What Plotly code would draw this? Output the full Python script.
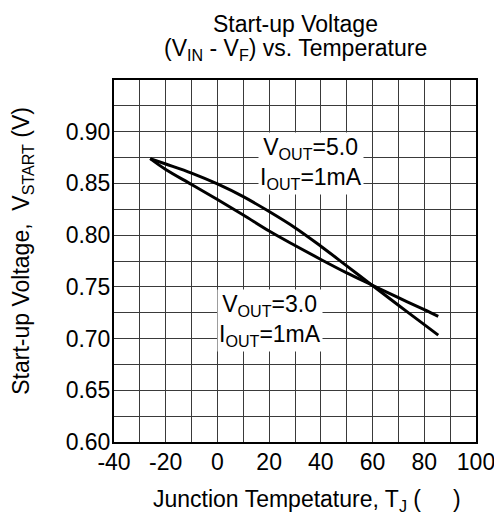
import plotly.graph_objects as go

# Data
temp_a = [-26, -20, -10, 0, 10, 20, 30, 40, 50, 60, 70, 80, 85.4]
vstart_a = [0.874, 0.8688, 0.8600, 0.8495, 0.8372, 0.8228, 0.8072, 0.7893, 0.7703, 0.7512, 0.7322, 0.7135, 0.7033]
temp_b = [-26, -20, -10, 0, 10, 20, 30, 40, 50, 60, 70, 80, 85.4]
vstart_b = [0.874, 0.8635, 0.8490, 0.8345, 0.8195, 0.8040, 0.7900, 0.7765, 0.7635, 0.7515, 0.7395, 0.7280, 0.7215]

x_ticks = [-40, -20, 0, 20, 40, 60, 80, 100]
y_ticks = [0.60, 0.65, 0.70, 0.75, 0.80, 0.85, 0.90]
y_ticktext = ["0.60", "0.65", "0.70", "0.75", "0.80", "0.85", "0.90"]

title_line1 = "Start-up Voltage"
title_line2 = "(V<sub>IN</sub> - V<sub>F</sub>) vs. Temperature"
x_title = "Junction Tempetature, T<sub>J</sub> (\u00a0\u00a0\u00a0\u00a0\u00a0)"
y_title = "Start-up Voltage,\u00a0 V<sub>START</sub> (V)"
label_a = "V<sub>OUT</sub>=5.0<br>I<sub>OUT</sub>=1mA"
label_b = "V<sub>OUT</sub>=3.0<br>I<sub>OUT</sub>=1mA"

FONT = "Liberation Sans, Arial, sans-serif"
FS = 23
GRID = "#3a3a3a"

# plot area: 113.5..476 px horizontally, 80..441.7 px vertically
H_PLOT = 514 - 80 - 72.3


def py(pix):
    """page pixel row -> paper y"""
    return (514 - 72.3 - pix) / H_PLOT


fig = go.Figure()
fig.add_trace(go.Scatter(x=temp_a, y=vstart_a, mode="lines",
                         line=dict(color="black", width=3, shape="spline", smoothing=1.0),
                         showlegend=False))
fig.add_trace(go.Scatter(x=temp_b, y=vstart_b, mode="lines",
                         line=dict(color="black", width=3, shape="spline", smoothing=1.0),
                         showlegend=False))

fig.add_annotation(x=36, y=0.869, xref="x", yref="y", text=label_a,
                   showarrow=False, bgcolor="white", borderpad=1,
                   font=dict(family=FONT, size=FS, color="black"))
fig.add_annotation(x=20.4, y=0.717, xref="x", yref="y", text=label_b,
                   showarrow=False, bgcolor="white", borderpad=1,
                   font=dict(family=FONT, size=FS, color="black"))

fig.add_annotation(x=0.5, y=py(24), xref="paper", yref="paper", text=title_line1,
                   showarrow=False, xanchor="center", yanchor="middle",
                   font=dict(family=FONT, size=FS, color="black"))
fig.add_annotation(x=0.5, y=py(50), xref="paper", yref="paper", text=title_line2,
                   showarrow=False, xanchor="center", yanchor="middle",
                   font=dict(family=FONT, size=FS, color="black"))
fig.add_annotation(x=0.534, y=py(500), xref="paper", yref="paper", text=x_title,
                   showarrow=False, xanchor="center", yanchor="middle",
                   font=dict(family=FONT, size=FS, color="black"))
fig.add_annotation(x=-0.2524, y=py(251), xref="paper", yref="paper", text=y_title,
                   showarrow=False, xanchor="center", yanchor="middle", textangle=-90,
                   font=dict(family=FONT, size=FS, color="black"))

fig.update_xaxes(range=[-40, 100], tickmode="array", tickvals=x_ticks,
                 ticktext=[str(v) for v in x_ticks],
                 showgrid=True, gridcolor=GRID, gridwidth=1,
                 minor=dict(dtick=10, showgrid=True, gridcolor=GRID, gridwidth=1),
                 showline=True, linecolor="black", linewidth=2, mirror=True,
                 ticks="", zeroline=False, automargin=False,
                 ticklabeloverflow="allow", ticklabelstandoff=-2,
                 tickfont=dict(family=FONT, size=FS, color="black"))
fig.update_yaxes(range=[0.60, 0.95], tickmode="array", tickvals=y_ticks,
                 ticktext=y_ticktext,
                 showgrid=True, gridcolor=GRID, gridwidth=1,
                 minor=dict(dtick=0.025, showgrid=True, gridcolor=GRID, gridwidth=1),
                 showline=True, linecolor="black", linewidth=2, mirror=True,
                 ticks="", zeroline=False, automargin=False,
                 ticklabeloverflow="allow", ticklabelstandoff=-3,
                 tickfont=dict(family=FONT, size=FS, color="black"))

fig.update_layout(width=494, height=514, autosize=False,
                  margin=dict(l=113.5, r=18, t=80, b=72.3),
                  paper_bgcolor="white", plot_bgcolor="white",
                  font=dict(family=FONT, size=FS, color="black"))

fig.write_html("out.html",
               config={"responsive": False, "displayModeBar": False},
               post_script="document.body.style.margin='0';document.body.style.overflow='hidden';")
